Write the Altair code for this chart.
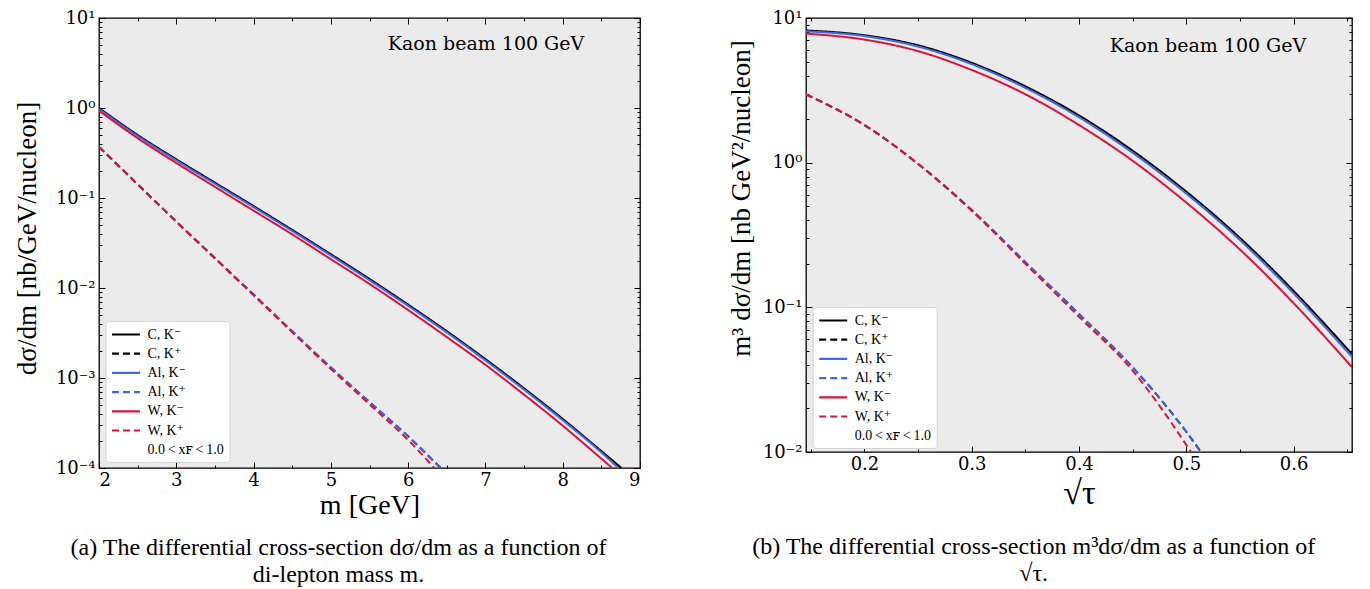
import altair as alt
import pandas as pd

# ---------------- legend / style categories ----------------
labels = ["C, K⁻", "C, K⁺", "Al, K⁻", "Al, K⁺", "W, K⁻", "W, K⁺", "0.0\u2009<\u2009xꜰ\u2009<\u20091.0"]
colors = ["#000000", "#000000", "#4169e1", "#4169e1", "#dc143c", "#dc143c", "rgba(0,0,0,0)"]
dashes = [[1, 0], [7, 4], [1, 0], [7, 4], [1, 0], [7, 4], [1, 0]]

# ---------------- panel (a): dsigma/dm vs m ----------------
m_C_minus = [2.0, 2.5, 3.0, 3.5, 4.0, 4.5, 5.0, 5.5, 6.0, 6.5, 7.0, 7.5, 8.0, 8.5, 8.76]
a_C_minus = [1.0, 0.501, 0.269, 0.148, 0.0813, 0.0442, 0.0237, 0.0126, 0.00653, 0.00331, 0.00162, 0.000767, 0.000351, 0.000154, 0.0001]
m_Al_minus = [2.0, 2.5, 3.0, 3.5, 4.0, 4.5, 5.0, 5.5, 6.0, 6.5, 7.0, 7.5, 8.0, 8.5, 8.72]
a_Al_minus = [0.977, 0.489, 0.262, 0.144, 0.0791, 0.043, 0.0230, 0.0122, 0.00633, 0.00321, 0.00157, 0.000743, 0.000340, 0.000149, 0.0001]
m_W_minus = [2.0, 2.5, 3.0, 3.5, 4.0, 4.5, 5.0, 5.5, 6.0, 6.5, 7.0, 7.5, 8.0, 8.5, 8.64]
a_W_minus = [0.933, 0.462, 0.245, 0.133, 0.0724, 0.0394, 0.0209, 0.0111, 0.00569, 0.00285, 0.0014, 0.000653, 0.000295, 0.000127, 0.0001]
m_C_plus = [2.0, 2.5, 3.0, 3.5, 4.0, 4.5, 5.0, 5.5, 6.0, 6.42]
a_C_plus = [0.37, 0.142, 0.0547, 0.0215, 0.00845, 0.0033, 0.00131, 0.00054, 0.000225, 0.0001]
m_Al_plus = [2.0, 2.5, 3.0, 3.5, 4.0, 4.5, 5.0, 5.5, 6.0, 6.42]
a_Al_plus = [0.37, 0.142, 0.0547, 0.0215, 0.00845, 0.0033, 0.00131, 0.00054, 0.000225, 0.0001]
m_W_plus = [2.0, 2.5, 3.0, 3.5, 4.0, 4.5, 5.0, 5.5, 6.0, 6.34]
a_W_plus = [0.37, 0.142, 0.0545, 0.0213, 0.0083, 0.00322, 0.00126, 0.00051, 0.000205, 0.0001]

# ---------------- panel (b): m^3 dsigma/dm vs sqrt(tau) ----------------
t_minus = [0.1455, 0.2, 0.25, 0.3, 0.35, 0.4, 0.45, 0.5, 0.55, 0.6, 0.6545]
b_C_minus = [8.2, 7.6, 6.47, 4.90, 3.37, 2.12, 1.21, 0.631, 0.302, 0.130, 0.0475]
b_Al_minus = [8.09, 7.5, 6.35, 4.80, 3.29, 2.06, 1.17, 0.611, 0.292, 0.125, 0.0454]
b_W_minus = [7.8, 7.09, 5.90, 4.37, 2.97, 1.82, 1.03, 0.53, 0.251, 0.107, 0.0386]
t_CAl_plus = [0.1455, 0.2, 0.25, 0.3, 0.35, 0.4, 0.45, 0.5, 0.5137]
b_C_plus = [2.96, 1.82, 0.98, 0.47, 0.205, 0.090, 0.0385, 0.0138, 0.01]
b_Al_plus = [2.96, 1.82, 0.98, 0.47, 0.205, 0.090, 0.0385, 0.0138, 0.01]
t_W_plus = [0.1455, 0.2, 0.25, 0.3, 0.35, 0.4, 0.45, 0.5, 0.5044]
b_W_plus = [2.96, 1.82, 0.98, 0.465, 0.2, 0.086, 0.0365, 0.0112, 0.01]

# tick values
a_x_ticks = [2, 2.5, 3, 3.5, 4, 4.5, 5, 5.5, 6, 6.5, 7, 7.5, 8, 8.5, 9]
b_x_ticks = [0.15, 0.2, 0.25, 0.3, 0.35, 0.4, 0.45, 0.5, 0.55, 0.6, 0.65]
a_y_ticks = [k * 10.0 ** e for e in range(-4, 1) for k in range(1, 10)] + [10.0]
b_y_ticks = [k * 10.0 ** e for e in range(-2, 1) for k in range(1, 10)] + [10.0]

caption_a = "(a) The differential cross-section dσ/dm as a function of\ndi-lepton mass m."
caption_b = "(b) The differential cross-section m³dσ/dm as a function of\n√τ."
note_text = "Kaon beam 100 GeV"

SERIF_DV = "DejaVu Serif, Liberation Serif, serif"
SERIF_TM = "Liberation Serif, DejaVu Serif, serif"

SUP = {1: "10¹", 0: "10⁰", -1: "10⁻¹", -2: "10⁻²", -3: "10⁻³", -4: "10⁻⁴"}
LOGE = "log(datum.value)/LN10"
LOG_MAJOR = f"abs({LOGE} - round({LOGE})) < 0.01"


def log_label_expr(exps):
    expr = "''"
    for e in exps:
        expr = f"round({LOGE}) == {e} ? '{SUP[e]}' : ({expr})"
    return f"{LOG_MAJOR} ? ({expr}) : ''"


def make_df(xs, ys, lab):
    return pd.DataFrame({"x": xs, "y": ys, "label": [lab] * len(xs)})


def panel(series, xdom, ydom, xticks, yticks, exps, xmajor, xlabfmt, xtitle, xtitle_size,
          ytitle, ytitle_size, ytitle_xy, leg_xy, note_xy, xtitle_pad):
    xs = alt.Scale(domain=xdom, nice=False, zero=False)
    ys = alt.Scale(type="log", domain=ydom, nice=False)
    leg = alt.Legend(title=None, orient="none", legendX=leg_xy[0], legendY=leg_xy[1],
                     symbolType="M-2,0H2", symbolSize=196, symbolStrokeWidth=2.2,
                     symbolOffset=7, labelOffset=13, labelFont=SERIF_TM,
                     labelFontSize=14, labelColor="black", labelLimit=300,
                     fillColor="white", strokeColor="#d4d4d4", padding=5,
                     cornerRadius=3, rowPadding=3.2)
    color = alt.Color("label:N", scale=alt.Scale(domain=labels, range=colors), legend=leg)
    dash = alt.StrokeDash("label:N", scale=alt.Scale(domain=labels, range=dashes), legend=leg)
    xtick_expr = f"{xmajor} ? -6 : -3"
    ytick_expr = f"{LOG_MAJOR} ? -6 : -3"
    xaxis = alt.Axis(values=xticks, labelExpr=f"{xmajor} ? format(datum.value, '{xlabfmt}') : ''",
                     tickSize=alt.ExprRef(expr=xtick_expr), tickColor="black", tickWidth=1,
                     domain=False, grid=False, labelPadding=9, labelFont=SERIF_DV,
                     labelFontSize=18, labelColor="black", title=xtitle,
                     titleFont=SERIF_TM, titleFontSize=xtitle_size,
                     titleFontWeight="normal", titleColor="black", titlePadding=xtitle_pad)
    yaxis = alt.Axis(values=yticks, labelExpr=log_label_expr(exps),
                     tickSize=alt.ExprRef(expr=ytick_expr), tickColor="black", tickWidth=1,
                     domain=False, grid=False, labelPadding=10, labelFont=SERIF_DV,
                     labelFontSize=18, labelColor="black", title=ytitle,
                     titleFont=SERIF_TM, titleFontSize=ytitle_size,
                     titleFontWeight="normal", titleColor="black",
                     titleX=ytitle_xy[0], titleY=ytitle_xy[1], titleBaseline="middle",
                     titleAlign="center", titleAngle=270)
    xaxis_top = alt.Axis(orient="top", values=xticks, labels=False, title=None, domain=False,
                         grid=False, tickSize=alt.ExprRef(expr=xtick_expr), tickColor="black",
                         tickWidth=1)
    yaxis_right = alt.Axis(orient="right", values=yticks, labels=False, title=None, domain=False,
                           grid=False, tickSize=alt.ExprRef(expr=ytick_expr), tickColor="black",
                           tickWidth=1)
    lines = []
    for lab, xv, yv in series:
        lines.append(
            alt.Chart(make_df(xv, yv, lab))
            .mark_line(strokeWidth=2, clip=True, interpolate="monotone")
            .encode(x=alt.X("x:Q", scale=xs, axis=xaxis),
                    y=alt.Y("y:Q", scale=ys, axis=yaxis),
                    color=color, strokeDash=dash)
        )
    all_df = pd.concat([make_df(xv, yv, lab) for lab, xv, yv in series])
    mirror = (
        alt.Chart(all_df)
        .mark_point(opacity=0, size=1, clip=True)
        .encode(x=alt.X("x:Q", scale=xs, axis=xaxis_top),
                y=alt.Y("y:Q", scale=ys, axis=yaxis_right))
    )
    note = (
        alt.Chart(pd.DataFrame({"t": [note_text]}))
        .mark_text(font=SERIF_DV, fontSize=19, align="center", baseline="middle", color="black")
        .encode(x=alt.value(note_xy[0]), y=alt.value(note_xy[1]), text="t:N")
    )
    return note, mirror, lines


def caption_layer(text, xy):
    return (
        alt.Chart(pd.DataFrame({"t": [text]}))
        .mark_text(font=SERIF_TM, fontSize=24, align="center", baseline="alphabetic",
                   lineBreak="\n", lineHeight=27, color="black")
        .encode(x=alt.value(xy[0]), y=alt.value(xy[1]), text="t:N")
    )


series_a = [
    (labels[0], m_C_minus, a_C_minus),
    (labels[1], m_C_plus, a_C_plus),
    (labels[2], m_Al_minus, a_Al_minus),
    (labels[3], m_Al_plus, a_Al_plus),
    (labels[4], m_W_minus, a_W_minus),
    (labels[5], m_W_plus, a_W_plus),
]
series_b = [
    (labels[0], t_minus, b_C_minus),
    (labels[1], t_CAl_plus, b_C_plus),
    (labels[2], t_minus, b_Al_minus),
    (labels[3], t_CAl_plus, b_Al_plus),
    (labels[4], t_minus, b_W_minus),
    (labels[5], t_W_plus, b_W_plus),
]

WA, HA = 541, 450
WB, HB = 546, 434

note_a, mirror_a, lines_a = panel(
    series_a, [2, 9], [1e-4, 10], a_x_ticks, a_y_ticks, [1, 0, -1, -2, -3, -4],
    "abs(datum.value - round(datum.value)) < 0.001", "d", "m [GeV]", 28,
    "dσ/dm  [nb/GeV/nucleon]", 27, (-72, 220), (6.5, 303), (387, 26), 2)
note_b, mirror_b, lines_b = panel(
    series_b, [0.1455, 0.6545], [1e-2, 10], b_x_ticks, b_y_ticks, [1, 0, -1, -2],
    "abs(datum.value*10 - round(datum.value*10)) < 0.001", ".1f", "√τ", 34,
    "m³ dσ/dm  [nb GeV²/nucleon]", 27, (-65, 180), (6.7, 289), (402, 28), 3)

left = (
    alt.layer(alt.layer(*lines_a), mirror_a, note_a, caption_layer(caption_a, (239.5, 537)))
    .resolve_axis(x="independent", y="independent")
    .properties(width=WA, height=HA)
)
right = (
    alt.layer(alt.layer(*lines_b), mirror_b, note_b, caption_layer(caption_b, (227.7, 536)))
    .resolve_axis(x="independent", y="independent")
    .properties(width=WB, height=HB)
)

chart = (
    alt.hconcat(left, right, spacing=166, bounds="flush")
    .resolve_scale(color="independent", strokeDash="independent")
    .properties(padding={"left": 12, "top": 8, "right": 5, "bottom": 0}, background="white")
    .configure_view(fill="#ebebeb", stroke="black", strokeWidth=1.3)
)

chart.save("out.html", embed_options={"renderer": "svg", "actions": False})
